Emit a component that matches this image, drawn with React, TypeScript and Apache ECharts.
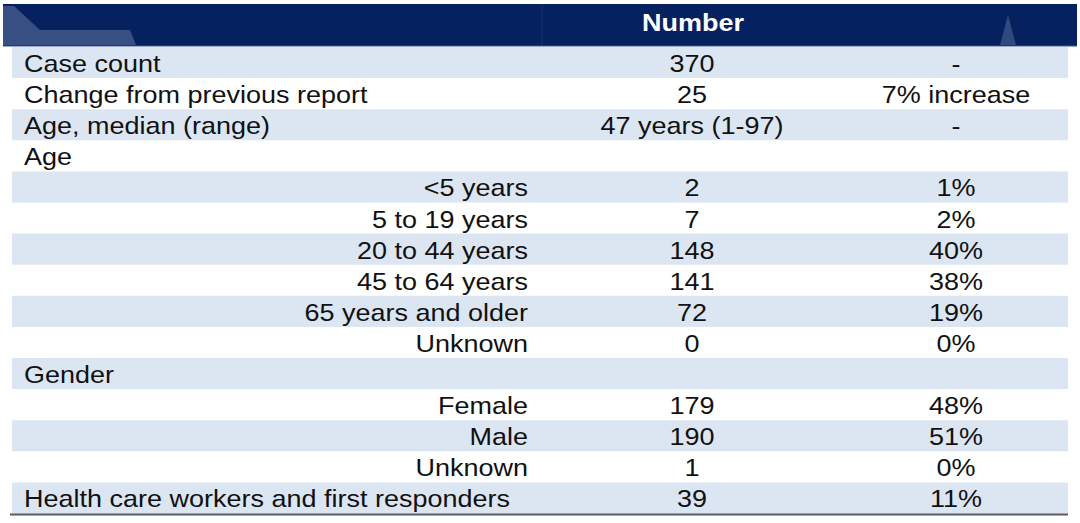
import React, { useEffect, useRef } from "react";
import * as echarts from "echarts";

const headerTitle = "Number";
const rowLabels = [
  "Case count",
  "Change from previous report",
  "Age, median (range)",
  "Age",
  "<5 years",
  "5 to 19 years",
  "20 to 44 years",
  "45 to 64 years",
  "65 years and older",
  "Unknown",
  "Gender",
  "Female",
  "Male",
  "Unknown",
  "Health care workers and first responders",
];
const isSubRow = [false, false, false, false, true, true, true, true, true, true, false, true, true, true, false];
const numberCol = ["370", "25", "47 years (1-97)", "", "2", "7", "148", "141", "72", "0", "", "179", "190", "1", "39"];
const percentCol = ["-", "7% increase", "-", "", "1%", "2%", "40%", "38%", "19%", "0%", "", "48%", "51%", "0%", "11%"];

const FONT = "'Liberation Sans', Arial, Helvetica, sans-serif";
const SX = 1.125;

export default function App() {
  const ref = useRef<HTMLDivElement>(null);
  useEffect(() => {
    if (!ref.current) return;
    const chart = echarts.init(ref.current, null, { renderer: "svg" });
    const rows = rowLabels.map((_, i) => [0, i]);
    chart.setOption({
      animation: false,
      backgroundColor: "#ffffff",
      grid: { left: 0, right: 0, top: 47, bottom: 9.5 },
      xAxis: { type: "value", min: 0, max: 1080, show: false },
      yAxis: {
        type: "category",
        data: rowLabels.map((_, i) => String(i)),
        inverse: true,
        show: false,
      },
      graphic: [
        { type: "rect", shape: { x: 3, y: 4, width: 1074, height: 42 }, style: { fill: "#05215f" }, z: 10 },
        {
          type: "polygon",
          shape: { points: [[3, 6], [14, 6], [40, 30], [130, 30], [136, 45], [3, 45]] },
          style: { fill: "rgba(150,165,200,0.35)" },
          z: 11,
        },
        {
          type: "polygon",
          shape: { points: [[1000, 45], [1008, 15], [1016, 45]] },
          style: { fill: "rgba(150,165,200,0.3)" },
          z: 11,
        },
        { type: "line", shape: { x1: 542, y1: 5, x2: 542, y2: 46 }, style: { stroke: "rgba(80,100,150,0.25)", lineWidth: 1 }, z: 11 },
        { type: "line", shape: { x1: 3, y1: 46, x2: 1077, y2: 46 }, style: { stroke: "#3a5590", lineWidth: 1 }, z: 11 },
        {
          type: "text",
          x: 693,
          y: 23,
          scaleX: SX,
          style: {
            text: headerTitle,
            textAlign: "center",
            textVerticalAlign: "middle",
            fontFamily: FONT,
            fontWeight: "bold",
            fontSize: 24,
            fill: "#ffffff",
          },
          z: 12,
        },
        { type: "line", shape: { x1: 10, y1: 514.5, x2: 1068, y2: 514.5 }, style: { stroke: "#5a5a5a", lineWidth: 2 }, z: 12 },
      ],
      series: [
        {
          type: "custom",
          data: rows,
          encode: { x: 0, y: 1 },
          renderItem: (params: any, api: any) => {
            const i = api.value(1);
            const c = api.coord([0, i]);
            const h = api.size([0, 1])[1];
            const yc = c[1];
            const x0 = api.coord([12, i])[0];
            const x1 = api.coord([1068, i])[0];
            const textStyle = (t: string, align: string) => ({
              text: t,
              textAlign: align,
              textVerticalAlign: "middle",
              fontFamily: FONT,
              fontSize: 24,
              fill: "#111111",
            });
            const children: any[] = [];
            if (i % 2 === 0) {
              children.push({
                type: "rect",
                shape: { x: x0, y: yc - h / 2, width: x1 - x0, height: h },
                style: { fill: "#dce6f2" },
              });
            }
            const lx = isSubRow[i] ? api.coord([528, i])[0] : api.coord([24, i])[0];
            children.push({
              type: "text",
              x: lx,
              y: yc + 1,
              scaleX: SX,
              style: textStyle(rowLabels[i], isSubRow[i] ? "right" : "left"),
            });
            children.push({
              type: "text",
              x: api.coord([692, i])[0],
              y: yc + 1,
              scaleX: SX,
              style: textStyle(numberCol[i], "center"),
            });
            children.push({
              type: "text",
              x: api.coord([956, i])[0],
              y: yc + 1,
              scaleX: SX,
              style: textStyle(percentCol[i], "center"),
            });
            return { type: "group", children };
          },
        },
      ],
    });
    return () => chart.dispose();
  }, []);
  return (
    <div
      ref={ref}
      style={{ position: "fixed", left: 0, top: 0, width: 1080, height: 523 }}
    />
  );
}
